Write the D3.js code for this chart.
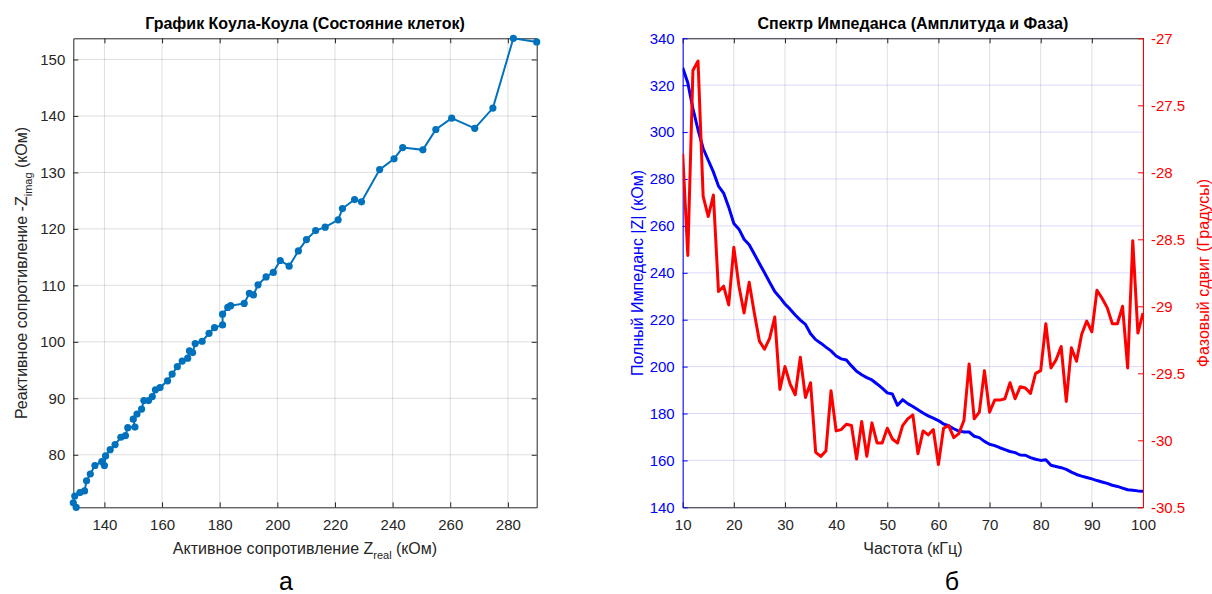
<!DOCTYPE html>
<html>
<head>
<meta charset="utf-8">
<script src="https://cdn.jsdelivr.net/npm/d3@7"></script>
<style>
body { margin: 0; background: #fff; }
svg { font-family: Arial, "Liberation Sans", Helvetica, sans-serif; }
</style>
</head>
<body>
<svg id="fig" width="1212" height="594"></svg>
<script>
// --- Cole-Cole data (high |Z| end first)
var coleReal = [290.0, 281.9, 274.8, 268.5, 260.5, 255.0, 250.5, 243.5, 240.5, 235.5,
	229.2, 226.8, 222.6, 221.1, 216.6, 213.3, 210.1, 207.3, 204.1, 201.0,
	198.6, 196.1, 193.3, 191.7, 190.3, 188.5, 183.8, 182.8, 181.0, 181.0,
	178.2, 176.3, 173.9, 171.5, 170.6, 169.5, 168.9, 167.0, 165.3, 163.5,
	161.9, 159.3, 157.7, 156.6, 155.3, 153.7, 152.9, 151.3, 150.0, 150.6,
	148.1, 147.3, 145.7, 143.7, 142.0, 140.4, 140.0, 139.1, 136.7, 135.1,
	133.8, 133.1, 131.5, 129.7, 129.2, 130.2];
var coleImag = [153.1, 153.75, 141.4, 137.8, 139.6, 137.6, 134.0, 134.4, 132.4, 130.5,
	124.8, 125.2, 123.6, 121.6, 120.3, 119.7, 118.1, 116.1, 113.4, 114.4,
	112.3, 111.5, 110.1, 108.3, 108.6, 106.8, 106.4, 106.1, 104.9, 103.0,
	102.5, 101.5, 100.1, 99.7, 98.1, 98.4, 97.1, 96.6, 95.6, 94.3,
	93.1, 91.9, 91.5, 90.3, 89.6, 89.6, 88.1, 87.2, 86.3, 84.9,
	84.8, 83.4, 83.1, 81.8, 80.9, 79.8, 78.1, 78.8, 78.1, 76.6,
	75.4, 73.6, 73.3, 72.7, 71.5, 70.7];
var coleXTicks = [140, 160, 180, 200, 220, 240, 260, 280];
var coleYTicks = [80, 90, 100, 110, 120, 130, 140, 150];

// --- impedance spectrum
var freqKHz = [10, 11, 12, 13, 14, 15, 16, 17, 18, 19, 20, 21, 22, 23, 24, 25, 26, 27, 28, 29,
	30, 31, 32, 33, 34, 35, 36, 37, 38, 39, 40, 41, 42, 43, 44, 45, 46, 47, 48, 49,
	50, 51, 52, 53, 54, 55, 56, 57, 58, 59, 60, 61, 62, 63, 64, 65, 66, 67, 68, 69,
	70, 71, 72, 73, 74, 75, 76, 77, 78, 79, 80, 81, 82, 83, 84, 85, 86, 87, 88, 89,
	90, 91, 92, 93, 94, 95, 96, 97, 98, 99, 100];
var impedanceMag = [327.4, 321.0, 310.0, 301.0, 293.0, 288.0, 283.0, 277.0, 274.0, 268.0,
	261.0, 258.6, 254.3, 252.0, 248.0, 244.0, 240.0, 236.0, 232.0, 229.5,
	226.7, 224.5, 222.0, 219.8, 218.0, 214.0, 211.5, 210.0, 208.3, 206.7,
	204.5, 203.3, 202.8, 200.3, 198.0, 196.5, 195.3, 194.3, 192.6, 190.8,
	188.8, 188.3, 183.5, 185.9, 184.2, 183.0, 181.6, 180.2, 179.0, 178.0,
	177.0, 175.5, 174.8, 173.5, 172.5, 172.1, 172.1, 170.3, 169.7, 168.1,
	166.9, 166.3, 165.4, 164.6, 163.8, 163.3, 162.3, 162.2, 161.2, 160.5,
	160.0, 160.3, 157.9, 157.4, 156.9, 156.2, 155.0, 154.0, 153.3, 152.7,
	152.1, 151.4, 150.8, 150.2, 149.4, 148.9, 148.2, 147.5, 147.3, 147.0, 146.8];
var phaseDeg = [-27.86, -28.62, -27.24, -27.17, -28.18, -28.33, -28.17, -28.89, -28.85, -28.99,
	-28.56, -28.85, -29.05, -28.82, -29.05, -29.26, -29.32, -29.24, -29.08, -29.62,
	-29.45, -29.58, -29.66, -29.38, -29.68, -29.57, -30.09, -30.12, -30.08, -29.63,
	-29.93, -29.92, -29.88, -29.89, -30.14, -29.86, -30.12, -29.87, -30.02, -30.02,
	-29.91, -29.99, -30.02, -29.89, -29.84, -29.81, -30.10, -29.93, -29.96, -29.92,
	-30.18, -29.91, -29.89, -29.98, -29.95, -29.85, -29.43, -29.84, -29.79, -29.48,
	-29.79, -29.70, -29.70, -29.69, -29.57, -29.69, -29.60, -29.61, -29.65, -29.50,
	-29.48, -29.13, -29.46, -29.40, -29.30, -29.71, -29.31, -29.41, -29.21, -29.11,
	-29.19, -28.88, -28.94, -29.01, -29.13, -29.13, -29.00, -29.46, -28.51, -29.20, -29.05];
var freqTicks = [10, 20, 30, 40, 50, 60, 70, 80, 90, 100];
var magTicks = [140, 160, 180, 200, 220, 240, 260, 280, 300, 320, 340];
var phaseTicks = [-30.5, -30, -29.5, -29, -28.5, -28, -27.5, -27];

var svg = d3.select('#fig');
var axisCol = '#262626';
var plotTop = 38.3, plotBottom = 507.3;

// small helper for inward MATLAB-style axes
var drawAxis = function(g, axis, color) {
	g.call(axis);
	g.select('.domain').attr('stroke', color).attr('stroke-width', 1);
	g.selectAll('.tick line').attr('stroke', color);
	g.selectAll('.tick text').attr('fill', color).style('font-size', '15px');
	return g;
};

// ================= a) Cole-Cole =================
var x1 = d3.scaleLinear().domain(d3.extent(coleReal)).range([73.3, 536.7]);
var y1 = d3.scaleLinear().domain(d3.extent(coleImag)).range([plotBottom, plotTop]);
var p1 = svg.append('g');

p1.append('g').selectAll('line').data(coleXTicks).enter().append('line')
	.attr('x1', x1).attr('x2', x1).attr('y1', plotTop).attr('y2', plotBottom)
	.attr('stroke', axisCol).attr('stroke-opacity', 0.15);
p1.append('g').selectAll('line').data(coleYTicks).enter().append('line')
	.attr('y1', y1).attr('y2', y1).attr('x1', 73.3).attr('x2', 536.7)
	.attr('stroke', axisCol).attr('stroke-opacity', 0.15);

drawAxis(p1.append('g').attr('transform', 'translate(0,' + plotBottom + ')'),
	d3.axisBottom(x1).tickValues(coleXTicks).tickSize(-5).tickSizeOuter(0).tickPadding(12), axisCol);
drawAxis(p1.append('g').attr('transform', 'translate(0,' + plotTop + ')'),
	d3.axisTop(x1).tickValues(coleXTicks).tickSize(-5).tickSizeOuter(0).tickFormat(''), axisCol);
drawAxis(p1.append('g').attr('transform', 'translate(73.3,0)'),
	d3.axisLeft(y1).tickValues(coleYTicks).tickSize(-5).tickSizeOuter(0).tickPadding(8), axisCol);
drawAxis(p1.append('g').attr('transform', 'translate(536.7,0)'),
	d3.axisRight(y1).tickValues(coleYTicks).tickSize(-5).tickSizeOuter(0).tickFormat(''), axisCol);

var colePts = coleReal.map(function(v, i) { return [v, coleImag[i]]; });
p1.append('path')
	.datum(colePts)
	.attr('fill', 'none')
	.attr('stroke', '#0072BD')
	.attr('stroke-width', 2)
	.attr('d', d3.line().x(function(d) { return x1(d[0]); }).y(function(d) { return y1(d[1]); }));
p1.append('g').selectAll('circle').data(colePts).enter().append('circle')
	.attr('cx', function(d) { return x1(d[0]); })
	.attr('cy', function(d) { return y1(d[1]); })
	.attr('r', 3.6)
	.style('fill', '#0072BD');

p1.append('text')
	.attr('x', 305).attr('y', 29)
	.attr('text-anchor', 'middle')
	.style('font-size', '16px').style('font-weight', 'bold').attr('fill', '#000')
	.text('График Коула-Коула (Состояние клеток)');

var xl1 = p1.append('text')
	.attr('x', 305).attr('y', 554)
	.attr('text-anchor', 'middle')
	.style('font-size', '16px').attr('fill', axisCol);
xl1.append('tspan').text('Активное сопротивление Z');
xl1.append('tspan').attr('dy', 5).style('font-size', '11px').text('real');
xl1.append('tspan').attr('dy', -5).text(' (кОм)');

var yl1 = p1.append('text')
	.attr('transform', 'translate(27,273) rotate(-90)')
	.attr('text-anchor', 'middle')
	.style('font-size', '16px').attr('fill', axisCol);
yl1.append('tspan').text('Реактивное сопротивление -Z');
yl1.append('tspan').attr('dy', 5).style('font-size', '11px').text('imag');
yl1.append('tspan').attr('dy', -5).text(' (кОм)');

svg.append('text')
	.attr('x', 286).attr('y', 590)
	.attr('text-anchor', 'middle')
	.style('font-size', '25px').attr('fill', '#000')
	.text('а');

// ================= б) spectrum =================
var L = 682.7, R = 1143;
var x2 = d3.scaleLinear().domain([10, 100]).range([L, R]);
var yMag = d3.scaleLinear().domain([140, 340]).range([plotBottom, plotTop]);
var yPh = d3.scaleLinear().domain([-30.5, -27]).range([plotBottom, plotTop]);
var p2 = svg.append('g');

p2.append('defs').append('clipPath').attr('id', 'clip2')
	.append('rect').attr('x', L).attr('y', plotTop).attr('width', R - L).attr('height', plotBottom - plotTop);

p2.append('g').selectAll('line').data(freqTicks).enter().append('line')
	.attr('x1', x2).attr('x2', x2).attr('y1', plotTop).attr('y2', plotBottom)
	.attr('stroke', axisCol).attr('stroke-opacity', 0.15);
p2.append('g').selectAll('line').data(magTicks).enter().append('line')
	.attr('y1', yMag).attr('y2', yMag).attr('x1', L).attr('x2', R)
	.attr('stroke', '#0000ff').attr('stroke-opacity', 0.15);

drawAxis(p2.append('g').attr('transform', 'translate(0,' + plotBottom + ')'),
	d3.axisBottom(x2).tickValues(freqTicks).tickSize(-5).tickSizeOuter(0).tickPadding(12), axisCol);
drawAxis(p2.append('g').attr('transform', 'translate(0,' + plotTop + ')'),
	d3.axisTop(x2).tickValues(freqTicks).tickSize(-5).tickSizeOuter(0).tickFormat(''), axisCol);
drawAxis(p2.append('g').attr('transform', 'translate(' + L + ',0)'),
	d3.axisLeft(yMag).tickValues(magTicks).tickSize(-5).tickSizeOuter(0).tickPadding(8), '#0000ff');
drawAxis(p2.append('g').attr('transform', 'translate(' + R + ',0)'),
	d3.axisRight(yPh).tickValues(phaseTicks).tickSize(-5).tickSizeOuter(0).tickPadding(8)
		.tickFormat(function(d) { return String(d); }), '#ff0000');

var lines = p2.append('g').attr('clip-path', 'url(#clip2)');
lines.append('path')
	.datum(freqKHz)
	.attr('fill', 'none')
	.attr('stroke', '#0000ff')
	.attr('stroke-width', 3)
	.attr('stroke-linejoin', 'round')
	.attr('d', d3.line().x(function(d) { return x2(d); }).y(function(d, i) { return yMag(impedanceMag[i]); }));
lines.append('path')
	.datum(freqKHz)
	.attr('fill', 'none')
	.attr('stroke', '#ff0000')
	.attr('stroke-width', 3)
	.attr('stroke-linejoin', 'round')
	.attr('d', d3.line().x(function(d) { return x2(d); }).y(function(d, i) { return yPh(phaseDeg[i]); }));

p2.append('text')
	.attr('x', (L + R) / 2).attr('y', 29)
	.attr('text-anchor', 'middle')
	.style('font-size', '16px').style('font-weight', 'bold').attr('fill', '#000')
	.text('Спектр Импеданса (Амплитуда и Фаза)');

p2.append('text')
	.attr('x', (L + R) / 2).attr('y', 554)
	.attr('text-anchor', 'middle')
	.style('font-size', '16px').attr('fill', axisCol)
	.text('Частота (кГц)');

p2.append('text')
	.attr('transform', 'translate(643,273) rotate(-90)')
	.attr('text-anchor', 'middle')
	.style('font-size', '16px').attr('fill', '#0000ff')
	.text('Полный Импеданс |Z| (кОм)');

p2.append('text')
	.attr('transform', 'translate(1209,273) rotate(-90)')
	.attr('text-anchor', 'middle')
	.style('font-size', '16px').attr('fill', '#ff0000')
	.text('Фазовый сдвиг (Градусы)');

svg.append('text')
	.attr('x', 952).attr('y', 590)
	.attr('text-anchor', 'middle')
	.style('font-size', '25px').attr('fill', '#000')
	.text('б');
</script>
</body>
</html>
